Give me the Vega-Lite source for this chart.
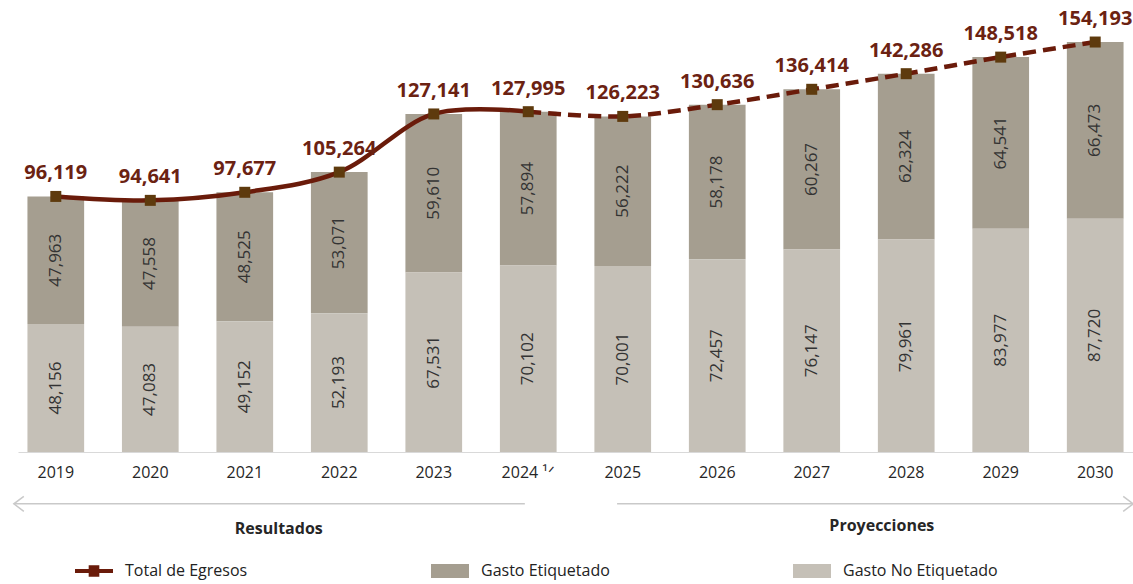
{
  "$schema": "https://vega.github.io/schema/vega-lite/v6.json",
  "width": 1115,
  "height": 452,
  "autosize": {"type": "none"},
  "padding": {"left": 18, "top": 0, "right": 0, "bottom": 132},
  "background": "white",
  "datasets": {
    "gasto": [
      {"anio": "2019", "serie": "Gasto Etiquetado", "valor": 47963},
      {"anio": "2019", "serie": "Gasto No Etiquetado", "valor": 48156},
      {"anio": "2020", "serie": "Gasto Etiquetado", "valor": 47558},
      {"anio": "2020", "serie": "Gasto No Etiquetado", "valor": 47083},
      {"anio": "2021", "serie": "Gasto Etiquetado", "valor": 48525},
      {"anio": "2021", "serie": "Gasto No Etiquetado", "valor": 49152},
      {"anio": "2022", "serie": "Gasto Etiquetado", "valor": 53071},
      {"anio": "2022", "serie": "Gasto No Etiquetado", "valor": 52193},
      {"anio": "2023", "serie": "Gasto Etiquetado", "valor": 59610},
      {"anio": "2023", "serie": "Gasto No Etiquetado", "valor": 67531},
      {"anio": "2024", "serie": "Gasto Etiquetado", "valor": 57894},
      {"anio": "2024", "serie": "Gasto No Etiquetado", "valor": 70102},
      {"anio": "2025", "serie": "Gasto Etiquetado", "valor": 56222},
      {"anio": "2025", "serie": "Gasto No Etiquetado", "valor": 70001},
      {"anio": "2026", "serie": "Gasto Etiquetado", "valor": 58178},
      {"anio": "2026", "serie": "Gasto No Etiquetado", "valor": 72457},
      {"anio": "2027", "serie": "Gasto Etiquetado", "valor": 60267},
      {"anio": "2027", "serie": "Gasto No Etiquetado", "valor": 76147},
      {"anio": "2028", "serie": "Gasto Etiquetado", "valor": 62324},
      {"anio": "2028", "serie": "Gasto No Etiquetado", "valor": 79961},
      {"anio": "2029", "serie": "Gasto Etiquetado", "valor": 64541},
      {"anio": "2029", "serie": "Gasto No Etiquetado", "valor": 83977},
      {"anio": "2030", "serie": "Gasto Etiquetado", "valor": 66473},
      {"anio": "2030", "serie": "Gasto No Etiquetado", "valor": 87720}
    ],
    "total": [
      {"anio": "2019", "total": 96119},
      {"anio": "2020", "total": 94641},
      {"anio": "2021", "total": 97677},
      {"anio": "2022", "total": 105264},
      {"anio": "2023", "total": 127141},
      {"anio": "2024", "total": 127995},
      {"anio": "2025", "total": 126223},
      {"anio": "2026", "total": 130636},
      {"anio": "2027", "total": 136414},
      {"anio": "2028", "total": 142286},
      {"anio": "2029", "total": 148518},
      {"anio": "2030", "total": 154193}
    ]
  },
  "config": {
    "view": {"stroke": null},
    "font": "Open Sans",
    "text": {"font": "Open Sans"},
    "axisX": {
      "title": null, "labelAngle": 0, "ticks": false, "domain": true, "domainColor": "#d9d9d9", "domainWidth": 1,
      "labelFont": "Open Sans", "labelFontSize": 16, "labelFontWeight": "normal", "labelColor": "#262626", "labelPadding": 12, "grid": false
    },
    "axisY": {"disable": true}
  },
  "layer": [
    {
      "data": {"name": "gasto"},
      "mark": {"type": "bar"},
      "encoding": {
        "x": {
          "field": "anio", "type": "ordinal", "title": null,
          "scale": {"paddingInner": 0.4, "paddingOuter": 0.1},
          "axis": {"labelExpr": "datum.value == '2024' ? '2024 ¹ᐟ' : datum.label"}
        },
        "y": {"field": "valor", "type": "quantitative", "stack": "zero", "scale": {"domain": [0, 170000], "nice": false}},
        "color": {
          "field": "serie", "type": "nominal",
          "scale": {"domain": ["Total de Egresos", "Gasto Etiquetado", "Gasto No Etiquetado"], "range": ["#6a1b0a", "#a59e90", "#c5c0b7"]},
          "legend": {
            "title": null, "orient": "none", "legendX": 57, "legendY": 552, "direction": "horizontal", "columns": 3,
            "columnPadding": 183, "symbolSize": 1444, "labelFont": "Open Sans", "labelFontSize": 16, "labelColor": "#222222",
            "labelOffset": 12, "padding": 0, "symbolStrokeWidth": 0,
            "encode": {
              "symbols": {
                "update": {
                  "shape": {"signal": "datum.value === 'Total de Egresos' ? 'M-1,-0.11H1V0.11H-1Z M-0.28,-0.3H0.28V0.3H-0.28Z' : 'M-1,-0.37H1V0.37H-1Z'"},
                  "fill": {"scale": "color", "field": "value"},
                  "opacity": {"value": 1}
                }
              }
            }
          }
        },
        "order": {"field": "serie", "sort": "descending"}
      }
    },
    {
      "data": {"name": "gasto"},
      "mark": {"type": "text", "angle": 270, "fontSize": 17, "color": "#333333", "font": "Open Sans"},
      "encoding": {
        "x": {"field": "anio", "type": "ordinal", "title": null, "axis": {"labelExpr": "datum.value == '2024' ? '2024 ¹ᐟ' : datum.label"}},
        "y": {"field": "valor", "type": "quantitative", "stack": "zero", "bandPosition": 0.5, "scale": {"domain": [0, 170000], "nice": false}},
        "detail": {"field": "serie"},
        "order": {"field": "serie", "sort": "descending"},
        "text": {"field": "valor", "type": "quantitative", "format": ",d"}
      }
    },
    {
      "data": {"name": "total"},
      "transform": [{"filter": "datum.anio <= '2024'"}],
      "mark": {"type": "line", "interpolate": "catmull-rom", "strokeWidth": 4.5},
      "encoding": {
        "x": {"field": "anio", "type": "ordinal", "title": null, "axis": {"labelExpr": "datum.value == '2024' ? '2024 ¹ᐟ' : datum.label"}},
        "y": {"field": "total", "type": "quantitative", "scale": {"domain": [0, 170000], "nice": false}},
        "color": {"datum": "Total de Egresos", "type": "nominal"}
      }
    },
    {
      "data": {"name": "total"},
      "transform": [{"filter": "datum.anio >= '2024'"}],
      "mark": {"type": "line", "interpolate": "catmull-rom", "strokeWidth": 4.5, "strokeDash": [13, 7]},
      "encoding": {
        "x": {"field": "anio", "type": "ordinal", "title": null, "axis": {"labelExpr": "datum.value == '2024' ? '2024 ¹ᐟ' : datum.label"}},
        "y": {"field": "total", "type": "quantitative", "scale": {"domain": [0, 170000], "nice": false}},
        "color": {"datum": "Total de Egresos", "type": "nominal"}
      }
    },
    {
      "data": {"name": "total"},
      "mark": {"type": "point", "shape": "square", "filled": true, "size": 121, "opacity": 1, "color": "#5e3a0d"},
      "encoding": {
        "x": {"field": "anio", "type": "ordinal", "title": null, "axis": {"labelExpr": "datum.value == '2024' ? '2024 ¹ᐟ' : datum.label"}},
        "y": {"field": "total", "type": "quantitative", "scale": {"domain": [0, 170000], "nice": false}}
      }
    },
    {
      "data": {"name": "total"},
      "mark": {"type": "text", "fontSize": 20, "fontWeight": "bold", "color": "#6b2212", "dy": -23, "font": "Open Sans"},
      "encoding": {
        "x": {"field": "anio", "type": "ordinal", "title": null, "axis": {"labelExpr": "datum.value == '2024' ? '2024 ¹ᐟ' : datum.label"}},
        "y": {"field": "total", "type": "quantitative", "scale": {"domain": [0, 170000], "nice": false}},
        "text": {"field": "total", "type": "quantitative", "format": ",d"}
      }
    },
    {
      "data": {"values": [{"tramo": "Resultados"}]},
      "layer": [
        {
          "mark": {"type": "rule", "color": "#c9c9c9", "strokeWidth": 1.5},
          "encoding": {
            "x": {"datum": "2019", "type": "ordinal", "bandPosition": -0.24, "title": null, "axis": {"labelExpr": "datum.value == '2024' ? '2024 ¹ᐟ' : datum.label"}},
            "x2": {"datum": "2024", "bandPosition": 0.44},
            "y": {"datum": -19500, "type": "quantitative", "scale": {"domain": [0, 170000], "nice": false}}
          }
        },
        {
          "mark": {"type": "point", "shape": "M1.33,-1L0,0L1.33,1", "size": 225, "filled": false, "color": "#c9c9c9", "strokeWidth": 1.5, "opacity": 1},
          "encoding": {
            "x": {"datum": "2019", "type": "ordinal", "bandPosition": -0.24, "title": null, "axis": {"labelExpr": "datum.value == '2024' ? '2024 ¹ᐟ' : datum.label"}},
            "y": {"datum": -19500, "type": "quantitative", "scale": {"domain": [0, 170000], "nice": false}}
          }
        },
        {
          "mark": {"type": "text", "fontSize": 16, "fontWeight": "bold", "color": "#262626", "font": "Open Sans"},
          "encoding": {
            "x": {"datum": "2021", "type": "ordinal", "bandPosition": 1.1, "title": null, "axis": {"labelExpr": "datum.value == '2024' ? '2024 ¹ᐟ' : datum.label"}},
            "y": {"datum": -29000, "type": "quantitative", "scale": {"domain": [0, 170000], "nice": false}},
            "text": {"field": "tramo"}
          }
        }
      ]
    },
    {
      "data": {"values": [{"tramo": "Proyecciones"}]},
      "layer": [
        {
          "mark": {"type": "rule", "color": "#c9c9c9", "strokeWidth": 1.5},
          "encoding": {
            "x": {"datum": "2025", "type": "ordinal", "bandPosition": 0.4, "title": null, "axis": {"labelExpr": "datum.value == '2024' ? '2024 ¹ᐟ' : datum.label"}},
            "x2": {"datum": "2030", "bandPosition": 1.17},
            "y": {"datum": -19500, "type": "quantitative", "scale": {"domain": [0, 170000], "nice": false}}
          }
        },
        {
          "mark": {"type": "point", "shape": "M-1.33,-1L0,0L-1.33,1", "size": 225, "filled": false, "color": "#c9c9c9", "strokeWidth": 1.5, "opacity": 1},
          "encoding": {
            "x": {"datum": "2030", "type": "ordinal", "bandPosition": 1.17, "title": null, "axis": {"labelExpr": "datum.value == '2024' ? '2024 ¹ᐟ' : datum.label"}},
            "y": {"datum": -19500, "type": "quantitative", "scale": {"domain": [0, 170000], "nice": false}}
          }
        },
        {
          "mark": {"type": "text", "fontSize": 16, "fontWeight": "bold", "color": "#262626", "font": "Open Sans"},
          "encoding": {
            "x": {"datum": "2028", "type": "ordinal", "bandPosition": 0.07, "title": null, "axis": {"labelExpr": "datum.value == '2024' ? '2024 ¹ᐟ' : datum.label"}},
            "y": {"datum": -28000, "type": "quantitative", "scale": {"domain": [0, 170000], "nice": false}},
            "text": {"field": "tramo"}
          }
        }
      ]
    }
  ]
}
